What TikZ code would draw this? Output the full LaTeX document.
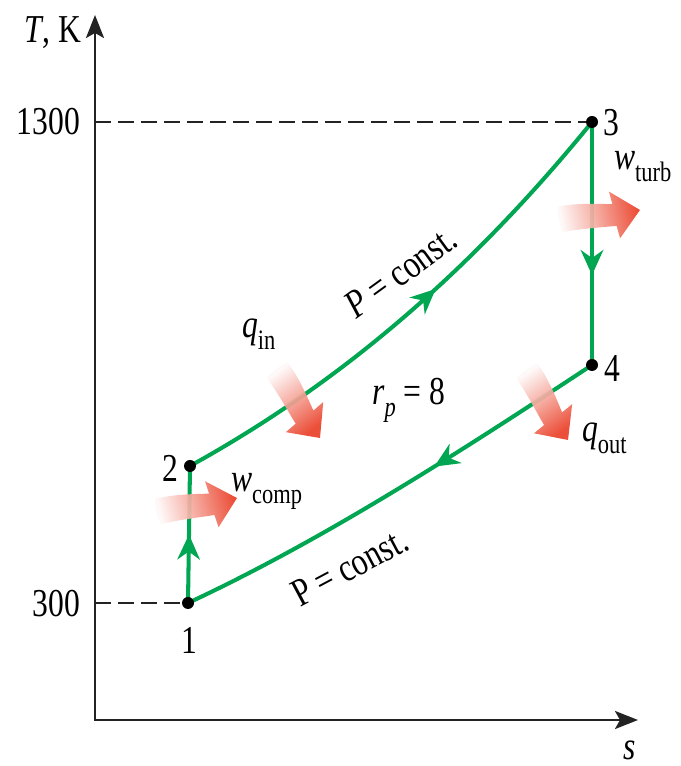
\documentclass[tikz,border=0pt]{standalone}
\usepackage{fontspec}
\setmainfont{Liberation Serif}[FakeStretch=0.8]
\usetikzlibrary{arrows.meta,decorations.markings}
\definecolor{cyc}{RGB}{0,166,81}
\definecolor{heat}{RGB}{234,64,40}
\definecolor{axc}{RGB}{35,35,35}
\newcommand\sbs[1]{\raisebox{-0.3em}{\fontsize{16}{16}\selectfont #1}}
\newcommand\heatarrow[3]{%
  \begin{scope}[shift={(#1)}, rotate=#2]
    \shade[bottom color=heat!3, top color=heat, middle color=heat!50, shading angle=#3, fill opacity=0.92]
      (-80,19) .. controls (-60,19) and (-40,14) .. (-26,11) -- (-27,24) -- (0,0)
      -- (-25,-24) -- (-26,-11) .. controls (-40,-10) and (-60,-7) .. (-80,-7)
      .. controls (-82,0) and (-82,12) .. (-80,19) -- cycle;
  \end{scope}}
\tikzset{
  axisline/.style={draw=axc, line width=1.6pt, {Stealth[length=0.46cm,width=0.36cm,inset=0.1cm]}-{Stealth[length=0.46cm,width=0.36cm,inset=0.1cm]}},
  guide/.style={draw=axc, line width=1.3pt, dash pattern=on 0.32cm off 0.14cm},
  cycline/.style={draw=cyc, line width=2.3pt},
  midarrow/.style={postaction={decorate}, decoration={markings, mark=at position #1 with {\arrow[cyc]{Stealth[length=0.5cm,width=0.45cm,inset=0.16cm]}}}},
  dot/.style={circle, fill=black, inner sep=0pt, minimum size=0.24cm},
  lbl/.style={inner sep=1pt, text=black}
}
\begin{document}
\begin{tikzpicture}[x=0.02cm, y=0.02cm, font=\fontsize{22.5}{24}\selectfont]
\useasboundingbox (0,0) rectangle (680,766);
% axes
\coordinate (O) at (95,46);
\coordinate (ytop) at (95,751);
\coordinate (xend) at (638,46);
\draw[axisline] (ytop) -- (O) -- (xend);
% state points
\coordinate (p1) at (188,163);
\coordinate (p2) at (190,300);
\coordinate (p3) at (592,644);
\coordinate (p4) at (592,401);
\coordinate (d1300) at (95,644);
\coordinate (d300) at (95,163);
\draw[guide] (d1300) -- (p3);
\draw[guide] (d300) -- (p1);
% cycle
\draw[cycline, midarrow=0.5] (p1) -- (p2);
\draw[cycline, midarrow=0.57] (p2) .. controls (324,374) and (458,479) .. (p3);
\draw[cycline, midarrow=0.63] (p3) -- (p4);
\draw[cycline, midarrow=0.4] (p4) .. controls (457,312) and (323,226) .. (p1);
% heat/work arrows
\heatarrow{237,268}{14}{-76}
\heatarrow{640,556}{11}{-79}
\heatarrow{320,328}{-53.5}{-143.5}
\heatarrow{568,326}{-55}{-145}
% dots
\node[dot] (n1) at (p1) {};
\node[dot] (n2) at (p2) {};
\node[dot] (n3) at (p3) {};
\node[dot] (n4) at (p4) {};
% labels
\node[lbl] (tk) at (53,733) {\textit{T}, K};
\node[lbl] (s) at (630,16) {\textit{s}};
\node[lbl, anchor=east] (t1300) at (82,644) {1300};
\node[lbl, anchor=east] (t300) at (82,162) {300};
\node[lbl] (l1) at (189,126) {1};
\node[lbl] (l2) at (170,298) {2};
\node[lbl] (l3) at (611,643) {3};
\node[lbl] (l4) at (612,398) {4};
\node[lbl, anchor=base west] (wturb) at (612,596) {\textit{w}\sbs{turb}};
\node[lbl, anchor=base west] (wcomp) at (229,274) {\textit{w}\sbs{comp}};
\node[lbl, anchor=base west] (qin) at (240,428) {\textit{q}\sbs{in}};
\node[lbl, anchor=base west] (qout) at (580,324) {\textit{q}\sbs{out}};
\node[lbl, anchor=base west] (rp) at (370,361) {\textit{r}\sbs{\textit{p}} = 8};
\node[lbl, rotate=36] (pc1) at (401,494) {\textit{P} = const.};
\node[lbl, rotate=28] (pc2) at (350,199) {P = const.};
\end{tikzpicture}
\end{document}
